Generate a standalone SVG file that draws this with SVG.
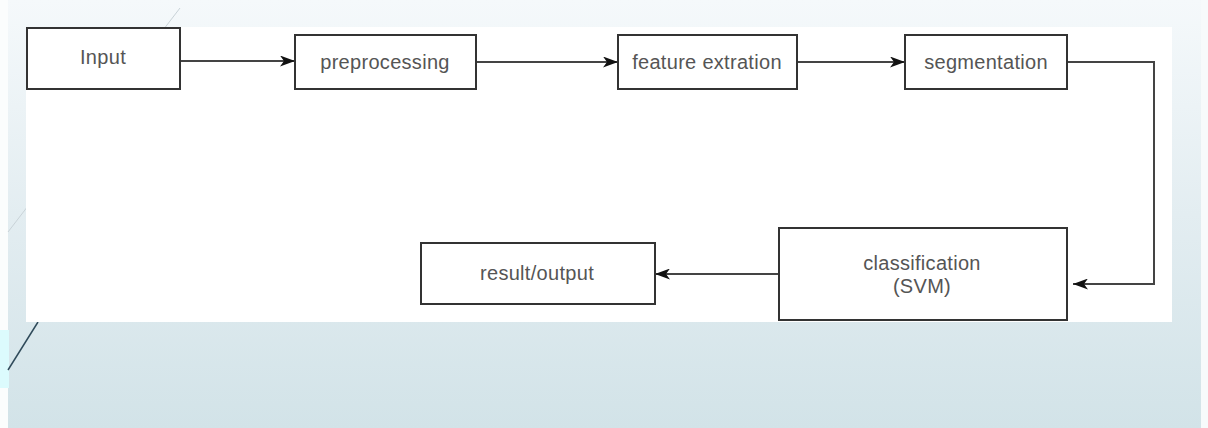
<svg xmlns="http://www.w3.org/2000/svg" width="1208" height="428" viewBox="0 0 1208 428">
  <defs>
    <linearGradient id="bg" x1="0" y1="0" x2="0" y2="1">
      <stop offset="0" stop-color="#f5f9fb"/>
      <stop offset="0.5" stop-color="#e3edf1"/>
      <stop offset="1" stop-color="#d2e3e8"/>
    </linearGradient>
    <marker id="arr" viewBox="0 0 15 11" refX="15" refY="5.5" markerWidth="15" markerHeight="11" markerUnits="userSpaceOnUse" orient="auto">
      <path d="M0,0 L15,5.5 L0,11 L4,5.5 Z" fill="#111"/>
    </marker>
    <style>
      .box { fill: #ffffff; stroke: #333333; stroke-width: 2; }
      .lbl { font-family: "Liberation Sans", Arial, sans-serif; font-size: 20px; letter-spacing: 0.3px; fill: #555555; text-anchor: middle; dominant-baseline: central; }
      .conn { fill: none; stroke: #444444; stroke-width: 2; }
    </style>
  </defs>
  <rect x="0" y="0" width="1208" height="428" fill="url(#bg)"/>
  <rect x="0" y="0" width="8" height="428" fill="#fbfdfd"/>
  <rect x="1201" y="0" width="7" height="428" fill="#f7fafb"/>
  <rect x="0" y="330" width="9" height="58" fill="#dcfbfd"/>
  <line x1="180" y1="8" x2="8" y2="232" stroke="#c9d3d8" stroke-width="1"/>
  <line x1="38" y1="322" x2="8" y2="370" stroke="#2f4a5a" stroke-width="1.5"/>
  <rect x="26" y="27" width="1146" height="295" fill="#ffffff"/>

  <g id="connectors">
    <line class="conn" x1="180" y1="61" x2="295" y2="61" marker-end="url(#arr)"/>
    <line class="conn" x1="476" y1="62" x2="618" y2="62" marker-end="url(#arr)"/>
    <line class="conn" x1="797" y1="62" x2="905" y2="62" marker-end="url(#arr)"/>
    <polyline class="conn" points="1067,62 1154,62 1154,284 1073,284" marker-end="url(#arr)"/>
    <line class="conn" x1="779" y1="274" x2="655" y2="274" marker-end="url(#arr)"/>
  </g>

  <g id="node-input">
    <rect class="box" x="27" y="28" width="153" height="61"/>
    <text class="lbl" x="103" y="57">Input</text>
  </g>
  <g id="node-preprocessing">
    <rect class="box" x="295" y="35" width="181" height="54"/>
    <text class="lbl" x="385" y="62">preprocessing</text>
  </g>
  <g id="node-feature">
    <rect class="box" x="618" y="35" width="179" height="54"/>
    <text class="lbl" x="707" y="62">feature extration</text>
  </g>
  <g id="node-segmentation">
    <rect class="box" x="905" y="35" width="162" height="54"/>
    <text class="lbl" x="986" y="62">segmentation</text>
  </g>
  <g id="node-classification">
    <rect class="box" x="779" y="228" width="288" height="92"/>
    <text class="lbl" x="922" y="263">classification</text>
    <text class="lbl" x="922" y="286">(SVM)</text>
  </g>
  <g id="node-result">
    <rect class="box" x="421" y="243" width="234" height="61"/>
    <text class="lbl" x="537" y="273">result/output</text>
  </g>
</svg>
